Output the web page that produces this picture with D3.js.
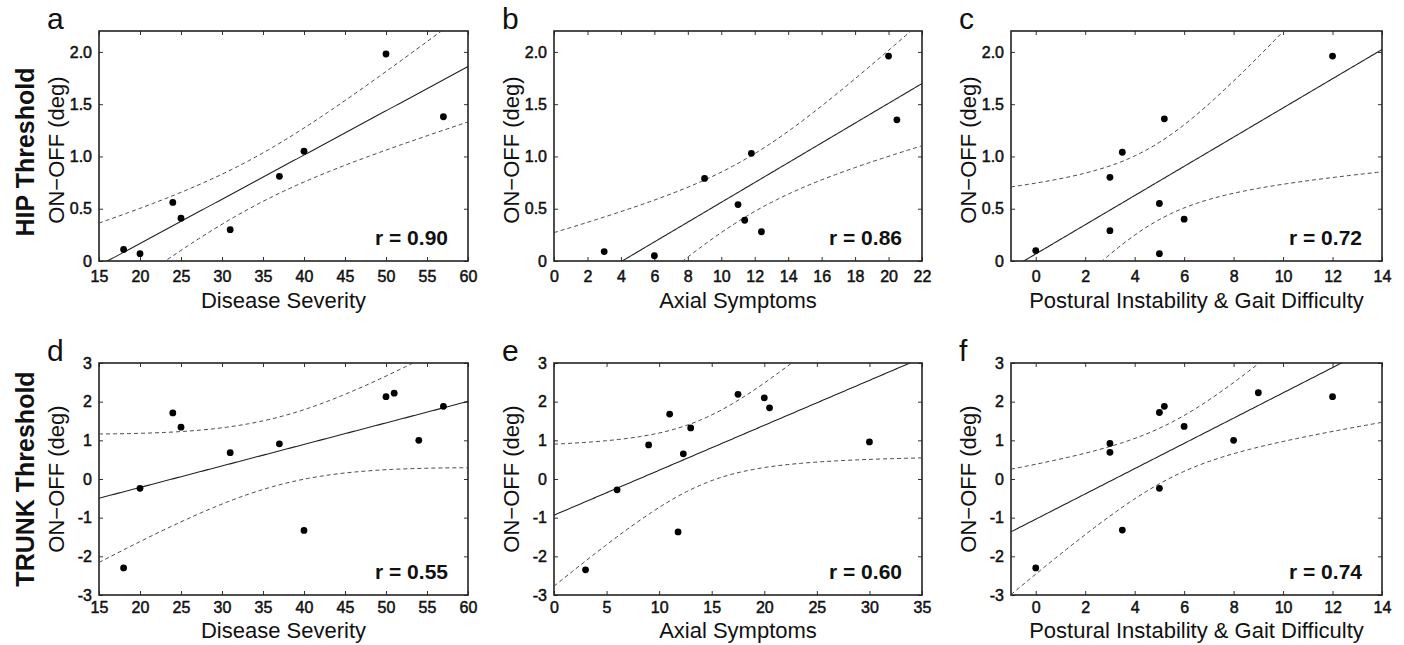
<!DOCTYPE html>
<html lang="en">
<head>
<meta charset="UTF-8">
<title>ON-OFF threshold vs clinical scores</title>
<script src="https://d3js.org/d3.v7.min.js"></script>
<style>
  body { margin: 0; background: #fff; }
  text { font-family: "Liberation Sans", Arial, Helvetica, sans-serif; fill: #111; }
</style>
</head>
<body>
<div id="chart"></div>
<script>
// values
var hipSeverityX = [18, 20, 24, 25, 31, 37, 40, 50, 57];
var hipSeverityY = [0.11, 0.07, 0.56, 0.41, 0.30, 0.81, 1.05, 1.98, 1.38];
var hipAxialX = [3, 6, 9, 11, 11.4, 11.8, 12.4, 20, 20.5];
var hipAxialY = [0.09, 0.05, 0.79, 0.54, 0.39, 1.03, 0.28, 1.96, 1.35];
var hipPigdX = [0, 3, 3, 3.5, 5, 5, 5.2, 6, 12];
var hipPigdY = [0.10, 0.80, 0.29, 1.04, 0.55, 0.07, 1.36, 0.40, 1.96];
var trunkSeverityX = [18, 20, 24, 25, 31, 37, 40, 50, 51, 54, 57];
var trunkSeverityY = [-2.30, -0.24, 1.71, 1.34, 0.68, 0.91, -1.33, 2.13, 2.22, 1.00, 1.88];
var trunkAxialX = [3, 6, 9, 11, 12.3, 13, 11.8, 17.5, 20, 20.5, 30];
var trunkAxialY = [-2.35, -0.28, 0.88, 1.68, 0.65, 1.32, -1.37, 2.19, 2.10, 1.84, 0.96];
var trunkPigdX = [0, 3, 3, 3.5, 5, 5.2, 5, 6, 8, 9, 12];
var trunkPigdY = [-2.30, 0.92, 0.69, -1.32, 1.72, 1.88, -0.24, 1.36, 1.00, 2.23, 2.13];

var panelLetters = ["a", "b", "c", "d", "e", "f"];
var xTitles = ["Disease Severity", "Axial Symptoms", "Postural Instability & Gait Difficulty"];
var rowTitles = ["HIP Threshold", "TRUNK Threshold"];
var rValues = ["0.90", "0.86", "0.72", "0.55", "0.60", "0.74"];
var xDomains = [[15, 60], [0, 22], [-1, 14], [15, 60], [0, 35], [-1, 14]];
var xTickValues = [d3.range(15, 61, 5), d3.range(0, 23, 2), d3.range(0, 15, 2),
                   d3.range(15, 61, 5), d3.range(0, 36, 5), d3.range(0, 15, 2)];
var hipYDomain = [0, 2.2];
var hipYTicks = [0, 0.5, 1.0, 1.5, 2.0];
var trunkYDomain = [-3, 3];
var trunkYTicks = [-3, -2, -1, 0, 1, 2, 3];

var width = 1404, height = 645;
var cols = [{ l: 99, r: 468 }, { l: 554, r: 922 }, { l: 1011, r: 1382 }];
var rows = [{ t: 31, b: 261 }, { t: 363, b: 595 }];

var svg = d3.select("#chart").append("svg")
    .attr("width", width)
    .attr("height", height);

var panels = [
    { x: hipSeverityX, y: hipSeverityY },
    { x: hipAxialX, y: hipAxialY },
    { x: hipPigdX, y: hipPigdY },
    { x: trunkSeverityX, y: trunkSeverityY },
    { x: trunkAxialX, y: trunkAxialY },
    { x: trunkPigdX, y: trunkPigdY }
];

// two sided 95% t values by degrees of freedom
var tCrit = { 7: 2.365, 9: 2.262 };

// least squares fit plus 95% confidence band of the mean
function fitLine(xs, ys) {
    var n = xs.length;
    var mx = d3.mean(xs), my = d3.mean(ys);
    var sxx = d3.sum(xs, function (v) { return (v - mx) * (v - mx); });
    var sxy = d3.sum(xs, function (v, i) { return (v - mx) * (ys[i] - my); });
    var b = sxy / sxx, a = my - b * mx;
    var sse = d3.sum(xs, function (v, i) { var e = ys[i] - (a + b * v); return e * e; });
    var s = Math.sqrt(sse / (n - 2));
    var t = tCrit[n - 2];
    return {
        y: function (x) { return a + b * x; },
        half: function (x) { return t * s * Math.sqrt(1 / n + (x - mx) * (x - mx) / sxx); }
    };
}

var defs = svg.append("defs");

panels.forEach(function (p, i) {
    var row = rows[Math.floor(i / 3)], col = cols[i % 3];
    var top = i < 3;
    var x = d3.scaleLinear().domain(xDomains[i]).range([col.l, col.r]);
    var y = d3.scaleLinear().domain(top ? hipYDomain : trunkYDomain).range([row.b, row.t]);
    var yTicks = top ? hipYTicks : trunkYTicks;
    var g = svg.append("g");

    defs.append("clipPath").attr("id", "clip" + i)
        .append("rect")
        .attr("x", col.l).attr("y", row.t)
        .attr("width", col.r - col.l).attr("height", row.b - row.t);

    // axes, ticks pointing inward on all four sides
    var fmtY = top ? function (d) { return d === 0 ? "0" : d.toFixed(1); } : function (d) { return String(d); };
    var axes = [
        { ax: d3.axisBottom(x).tickValues(xTickValues[i]).tickFormat(String), at: "translate(0," + row.b + ")", pad: top ? 9.5 : 6.5 },
        { ax: d3.axisTop(x).tickValues(xTickValues[i]).tickFormat(""), at: "translate(0," + row.t + ")", pad: 3 },
        { ax: d3.axisLeft(y).tickValues(yTicks).tickFormat(fmtY), at: "translate(" + col.l + ",0)", pad: 7 },
        { ax: d3.axisRight(y).tickValues(yTicks).tickFormat(""), at: "translate(" + col.r + ",0)", pad: 3 }
    ];
    axes.forEach(function (o) {
        var ag = g.append("g").attr("transform", o.at)
            .call(o.ax.tickSizeInner(-4).tickSizeOuter(0).tickPadding(o.pad));
        ag.select(".domain").remove();
        ag.selectAll(".tick line").attr("stroke", "#333").attr("stroke-width", 1);
        ag.selectAll(".tick text")
            .style("font-size", "16px")
            .style("font-family", "'Liberation Sans', Arial, sans-serif")
            .attr("fill", "#111")
            .attr("stroke", "#111").attr("stroke-width", 0.5);
    });

    // frame
    g.append("rect")
        .attr("x", col.l).attr("y", row.t)
        .attr("width", col.r - col.l).attr("height", row.b - row.t)
        .attr("fill", "none").attr("stroke", "#222").attr("stroke-width", 1.6);

    // regression line and confidence band
    var fit = fitLine(p.x, p.y);
    var xs = d3.range(0, 201).map(function (k) {
        return xDomains[i][0] + (xDomains[i][1] - xDomains[i][0]) * k / 200;
    });
    var line = d3.line().x(function (d) { return x(d[0]); }).y(function (d) { return y(d[1]); });
    var plot = g.append("g").attr("clip-path", "url(#clip" + i + ")");
    plot.append("path")
        .attr("d", line(xs.map(function (v) { return [v, fit.y(v)]; })))
        .attr("fill", "none").attr("stroke", "#222").attr("stroke-width", 1.1);
    [1, -1].forEach(function (sgn) {
        plot.append("path")
            .attr("d", line(xs.map(function (v) { return [v, fit.y(v) + sgn * fit.half(v)]; })))
            .attr("fill", "none").attr("stroke", "#444").attr("stroke-width", 1)
            .attr("stroke-dasharray", "4,3");
    });

    // points
    g.selectAll("circle")
        .data(p.x.map(function (v, k) { return [v, p.y[k]]; }))
        .join("circle")
        .attr("cx", function (d) { return x(d[0]); })
        .attr("cy", function (d) { return y(d[1]); })
        .attr("r", 3.4)
        .attr("fill", "#000");

    // correlation label
    g.append("text")
        .attr("x", col.r - 20).attr("y", row.b - 16)
        .attr("text-anchor", "end")
        .style("font-size", "21px").style("font-weight", "bold")
        .text("r = " + rValues[i]);

    // panel letter
    g.append("text")
        .attr("x", col.l - 52).attr("y", row.t - 2)
        .style("font-size", "30px")
        .text(panelLetters[i]);

    // y title
    var yc = (row.t + row.b) / 2 + (top ? 4 : 0);
    g.append("text")
        .attr("transform", "translate(" + (col.l - 43) + "," + yc + ") rotate(-90)")
        .attr("text-anchor", "middle").attr("dy", "0.35em")
        .style("font-size", "22px")
        .text("ON\u2212OFF (deg)");

    // x title
    g.append("text")
        .attr("x", (col.l + col.r) / 2).attr("y", row.b + (top ? 47 : 43))
        .attr("text-anchor", "middle")
        .style("font-size", "22px")
        .text(xTitles[i % 3]);
});

// row titles
rows.forEach(function (row, k) {
    svg.append("text")
        .attr("transform", "translate(25," + ((row.t + row.b) / 2 + (k === 0 ? 6 : 0)) + ") rotate(-90)")
        .attr("text-anchor", "middle").attr("dy", "0.35em")
        .style("font-size", "25px").style("font-weight", "bold")
        .text(rowTitles[k]);
});
</script>
</body>
</html>
